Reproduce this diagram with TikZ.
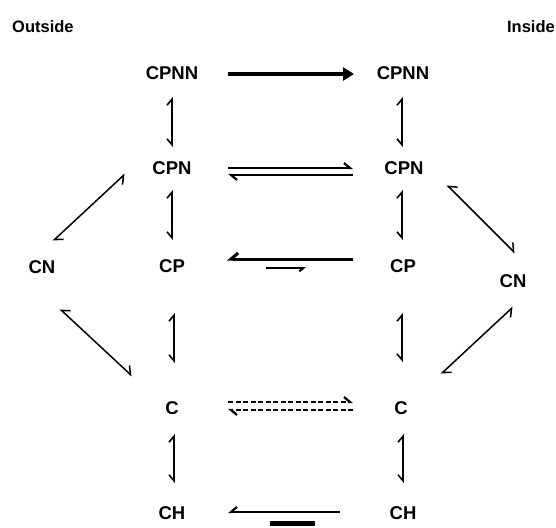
\documentclass[tikz,border=0pt]{standalone}
\usepackage{fontspec}
\setmainfont{Liberation Sans}
\usetikzlibrary{arrows.meta}
\tikzset{
  lab/.style={font=\fontsize{18.5}{18.5}\selectfont\bfseries, inner sep=0pt, anchor=center},
  hd/.style={font=\fontsize{16.5}{16.5}\selectfont\bfseries, inner sep=0pt},
  eqv/.style={line width=1.6pt, {Straight Barb[right,length=6pt,width=10pt]}-{Straight Barb[left,length=6pt,width=10pt]}},
  eqd/.style={line width=1.5pt, {Straight Barb[right,length=7pt,width=12pt]}-{Straight Barb[left,length=7pt,width=12pt]}},
  hl/.style={line width=2.2pt, -{Straight Barb[left,length=6pt,width=10pt]}},
  hrt/.style={-{Straight Barb[right,length=#1,width=1.7*#1]}},
  dsh/.style={dash pattern=on 5pt off 2.5pt},
}
\begin{document}
\begin{tikzpicture}[x=1pt,y=-1pt]
\useasboundingbox (0,0) rectangle (556,527);
\node[hd, anchor=west] (out) at (12,27) {Outside};
\node[hd, anchor=east] (in) at (555,27) {Inside};
% left column
\node[lab] (lCPNN) at (172,73) {CPNN};
\node[lab] (lCPN) at (172,168) {CPN};
\node[lab] (lCP) at (172,266) {CP};
\node[lab] (lC) at (172,408) {C};
\node[lab] (lCH) at (172,513) {CH};
\node[lab] (lCN) at (42,267) {CN};
% right column
\node[lab] (rCPNN) at (403,73) {CPNN};
\node[lab] (rCPN) at (404,168) {CPN};
\node[lab] (rCP) at (403,266) {CP};
\node[lab] (rC) at (401,408) {C};
\node[lab] (rCH) at (403,513) {CH};
\node[lab] (rCN) at (513,281) {CN};
% vertical equilibria
\draw[eqv] ([shift={(0,-21)}]lCPN.center) -- ([shift={(0,24)}]lCPNN.center);
\draw[eqv] ([shift={(0,-26)}]lCP.center) -- ([shift={(0,22)}]lCPN.center);
\draw[eqv] ([shift={(2,-45)}]lC.center) -- ([shift={(2,47)}]lCP.center);
\draw[eqv] ([shift={(2,-30)}]lCH.center) -- ([shift={(2,26)}]lC.center);
\draw[eqv] ([shift={(-2,-21)}]rCPN.center) -- ([shift={(-1,24)}]rCPNN.center);
\draw[eqv] ([shift={(-1,-26)}]rCP.center) -- ([shift={(-2,22)}]rCPN.center);
\draw[eqv] ([shift={(1,-46)}]rC.center) -- ([shift={(-1,47)}]rCP.center);
\draw[eqv] ([shift={(0,-30)}]rCH.center) -- ([shift={(2,26)}]rC.center);
% diagonals
\draw[eqd] ([shift={(-47,6)}]lCPN.center) -- ([shift={(11,-26)}]lCN.center);
\draw[eqd] ([shift={(18,42)}]lCN.center) -- ([shift={(-40,-32)}]lC.center);
\draw[eqd] ([shift={(43,17)}]rCPN.center) -- ([shift={(2,-28)}]rCN.center);
\draw[eqd] ([shift={(0,26)}]rCN.center) -- ([shift={(40,-34)}]rC.center);
% CPNN arrow
\draw[line width=4pt, -{Triangle[length=11pt,width=13pt]}] ([shift={(56,1)}]lCPNN.center) -- ([shift={(-49,1)}]rCPNN.center);
% CPN equilibrium
\draw[hl] ([shift={(56,0)}]lCPN.center) -- ([shift={(-51,0)}]rCPN.center);
\draw[hl] ([shift={(-51,7)}]rCPN.center) -- ([shift={(56,7)}]lCPN.center);
% CP
\draw[line width=3pt, hrt=7pt] ([shift={(-50,-7)}]rCP.center) -- ([shift={(55,-7)}]lCP.center);
\draw[line width=2pt, hrt=4pt] ([shift={(94,2)}]lCP.center) -- ([shift={(-97,2)}]rCP.center);
% C dashed
\draw[hl, dsh] ([shift={(56,-6)}]lC.center) -- ([shift={(-48,-6)}]rC.center);
\draw[hl, dsh] ([shift={(-48,2)}]rC.center) -- ([shift={(56,2)}]lC.center);
% CH
\draw[line width=2.2pt, hrt=6pt] ([shift={(-63,-1)}]rCH.center) -- ([shift={(56,-1)}]lCH.center);
\draw[line width=5pt] ([shift={(98,10)}]lCH.center) -- ([shift={(-88,10)}]rCH.center);
\end{tikzpicture}
\end{document}
